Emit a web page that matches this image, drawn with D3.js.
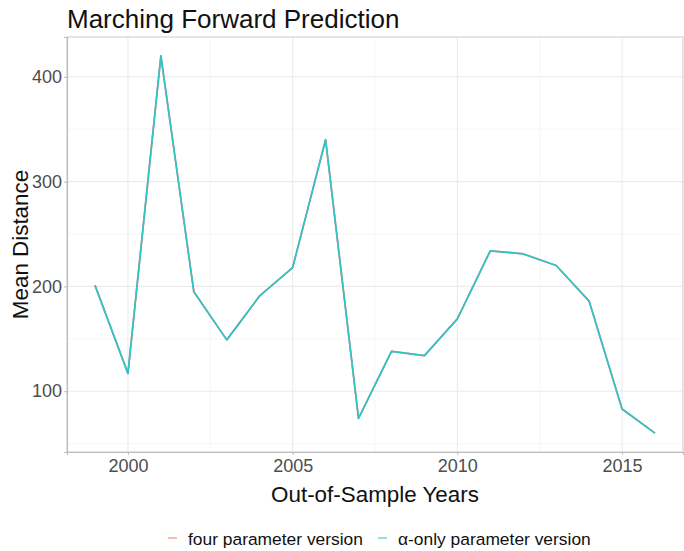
<!DOCTYPE html>
<html>
<head>
<meta charset="utf-8">
<script src="https://cdn.jsdelivr.net/npm/d3@7"></script>
<style>
  body { margin: 0; background: #fff; }
  svg text { font-family: "Liberation Sans", Arial, Helvetica, sans-serif; }
</style>
</head>
<body>
<svg id="chart" width="684" height="551"></svg>
<script>
const years = [1999, 2000, 2001, 2002, 2003, 2004, 2005, 2006, 2007, 2008, 2009, 2010, 2011, 2012, 2013, 2014, 2015, 2016];
const fourParam = [201, 117, 420, 195, 149, 191, 218, 340, 74, 138, 134, 169, 234, 231, 220, 186, 83, 60];
const alphaOnly = [201, 117, 420, 195, 149, 191, 218, 340, 74, 138, 134, 169, 234, 231, 220, 186, 83, 60];
const seriesNames = ["four parameter version", "\u03b1-only parameter version"];
const seriesColors = ["#F8766D", "#2CC6C8"];
const xTicks = [2000, 2005, 2010, 2015];
const yTicks = [100, 200, 300, 400];
const xMinor = [1997.5, 2002.5, 2007.5, 2012.5];
const yMinor = [50, 150, 250, 350];

const svg = d3.select("#chart");
const L = 67, R = 683, T = 37, B = 452;

const allVals = fourParam.concat(alphaOnly);
const [xmin, xmax] = d3.extent(years);
const [ymin, ymax] = d3.extent(allVals);
const xpad = (xmax - xmin) * 0.05, ypad = (ymax - ymin) * 0.05;
const x = d3.scaleLinear().domain([xmin - xpad, xmax + xpad]).range([L, R]);
const y = d3.scaleLinear().domain([ymin - ypad, ymax + ypad]).range([B, T]);

// grid
const g = svg.append("g");
g.selectAll(".ymin").data(yMinor.filter(v => y(v) <= B && y(v) >= T)).join("line")
  .attr("x1", L).attr("x2", R).attr("y1", d => y(d)).attr("y2", d => y(d))
  .attr("stroke", "#f4f4f4").attr("stroke-width", 0.8);
g.selectAll(".xmin").data(xMinor.filter(v => x(v) >= L && x(v) <= R)).join("line")
  .attr("y1", T).attr("y2", B).attr("x1", d => x(d)).attr("x2", d => x(d))
  .attr("stroke", "#f4f4f4").attr("stroke-width", 0.8);
g.selectAll(".ymaj").data(yTicks).join("line")
  .attr("x1", L).attr("x2", R).attr("y1", d => y(d)).attr("y2", d => y(d))
  .attr("stroke", "#ebebeb").attr("stroke-width", 1.1);
g.selectAll(".xmaj").data(xTicks).join("line")
  .attr("y1", T).attr("y2", B).attr("x1", d => x(d)).attr("x2", d => x(d))
  .attr("stroke", "#ebebeb").attr("stroke-width", 1.1);

// panel border
svg.append("rect").attr("x", L).attr("y", T).attr("width", R - L).attr("height", B - T)
  .attr("fill", "none").attr("stroke", "#d4d4d4").attr("stroke-width", 1.2);

// axes
const xAxis = d3.axisBottom(x).tickValues(xTicks).tickFormat(d3.format("d")).tickSize(3).tickPadding(4);
const yAxis = d3.axisLeft(y).tickValues(yTicks).tickFormat(d3.format("d")).tickSize(3).tickPadding(2);
const gx = svg.append("g").attr("transform", `translate(0,${B})`).call(xAxis);
const gy = svg.append("g").attr("transform", `translate(${L},0)`).call(yAxis);
[gx, gy].forEach(ax => {
  ax.select(".domain").attr("stroke", "#bdbdbd").attr("stroke-width", 1.2);
  ax.selectAll(".tick line").attr("stroke", "#bdbdbd");
  ax.selectAll(".tick text").attr("fill", "#4d4d4d").style("font-size", "18px");
});

// lines
const line = d3.line().x((d, i) => x(years[i])).y(d => y(d));
[fourParam, alphaOnly].forEach((vals, k) => {
  svg.append("path").datum(vals).attr("d", line)
    .attr("fill", "none").attr("stroke", seriesColors[k]).attr("stroke-width", 1.7)
    .attr("stroke-linejoin", "round");
});

// title
svg.append("text").attr("x", L).attr("y", 28).text("Marching Forward Prediction")
  .style("font-size", "26px").attr("fill", "#111");

// axis titles
svg.append("text").attr("x", (L + R) / 2).attr("y", 502).attr("text-anchor", "middle")
  .text("Out-of-Sample Years").style("font-size", "22.4px").attr("fill", "#111");
svg.append("text").attr("transform", `translate(28,${(T + B) / 2}) rotate(-90)`)
  .attr("text-anchor", "middle").text("Mean Distance").style("font-size", "22.4px").attr("fill", "#111");

// legend
const legendX = [168, 378];
seriesNames.forEach((name, k) => {
  svg.append("line").attr("x1", legendX[k]).attr("x2", legendX[k] + 9)
    .attr("y1", 538).attr("y2", 538).attr("stroke", seriesColors[k]).attr("stroke-width", 1.7).attr("opacity", 0.6);
  svg.append("text").attr("x", legendX[k] + 20).attr("y", 545).text(name)
    .style("font-size", "17.4px").attr("fill", "#111");
});
</script>
</body>
</html>
